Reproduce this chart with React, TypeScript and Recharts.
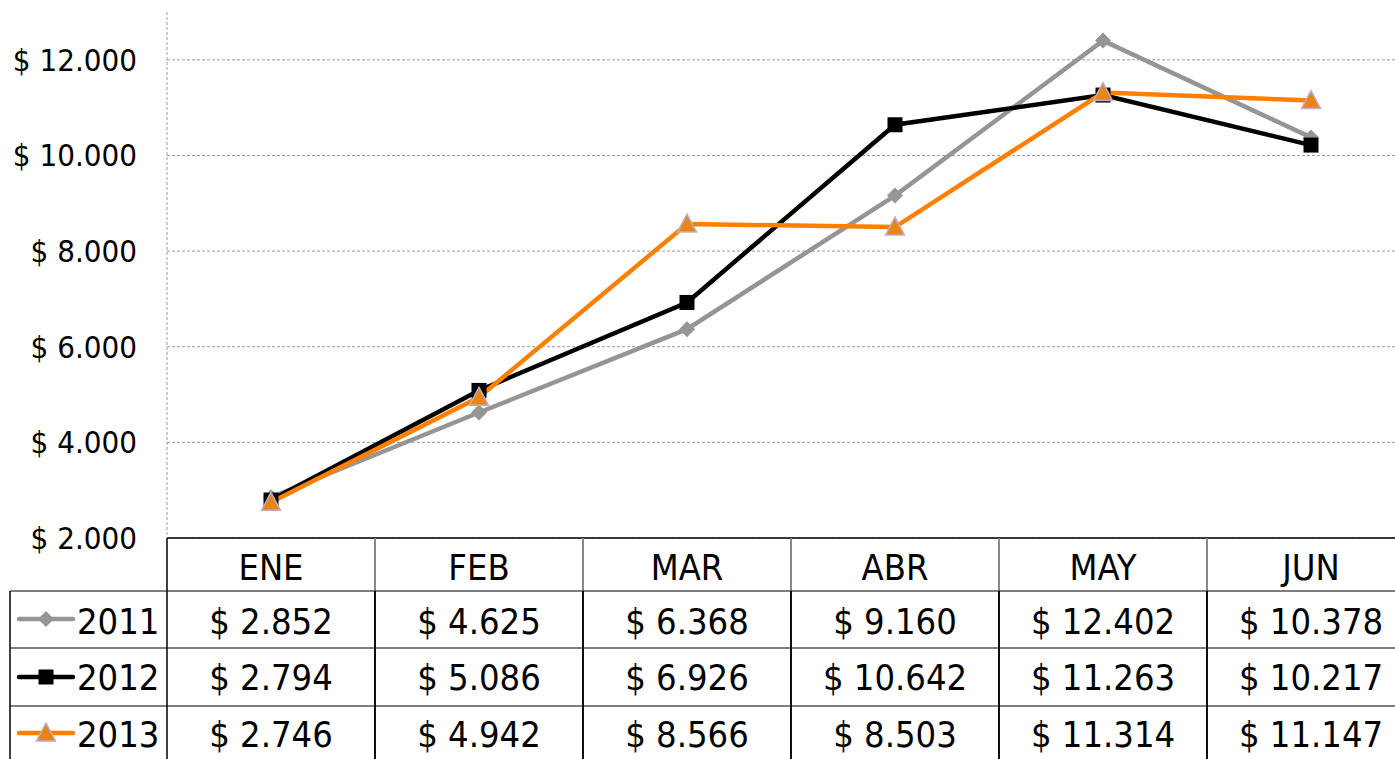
import React from 'react';
import { LineChart, Line, XAxis, YAxis, CartesianGrid } from 'recharts';

const months = ['ENE', 'FEB', 'MAR', 'ABR', 'MAY', 'JUN'];
const years = ['2011', '2012', '2013'];
const values2011 = [2852, 4625, 6368, 9160, 12402, 10378];
const values2012 = [2794, 5086, 6926, 10642, 11263, 10217];
const values2013 = [2746, 4942, 8566, 8503, 11314, 11147];
const yTicks = [2000, 4000, 6000, 8000, 10000, 12000];

const data = months.map((m, i) => ({
  month: m,
  y2011: values2011[i],
  y2012: values2012[i],
  y2013: values2013[i],
}));

const seriesValues = [values2011, values2012, values2013];

const FONT = "'DejaVu Sans Condensed', 'DejaVu Sans', sans-serif";
const GRAY = '#959595';
const ORANGE = '#ff8000';
const TRI_FILL = '#ec8410';
const TRI_STROKE = '#b9aecb';

const CHART_W = 1420;
const CHART_H = 790;
const PLOT_LEFT = 167;
const PLOT_RIGHT_MARGIN = 5;
const BAND = (CHART_W - PLOT_RIGHT_MARGIN - PLOT_LEFT) / months.length;

const fmt = (n: number) => '$ ' + String(n).replace(/\B(?=(\d{3})+(?!\d))/g, '.');

const Diamond = ({ cx, cy, s = 8 }: any) => (
  <polygon points={`${cx},${cy - s} ${cx + s},${cy} ${cx},${cy + s} ${cx - s},${cy}`} fill={GRAY} />
);
const Square = ({ cx, cy, s = 7.5 }: any) => (
  <rect x={cx - s} y={cy - s} width={s * 2} height={s * 2} fill="#000" />
);
const Triangle = ({ cx, cy }: any) => (
  <polygon
    points={`${cx},${cy - 10} ${cx + 9.5},${cy + 8} ${cx - 9.5},${cy + 8}`}
    fill={TRI_FILL}
    stroke={TRI_STROKE}
    strokeWidth={1.5}
  />
);

const markers = [Diamond, Square, Triangle];
const lineColors = [GRAY, '#000', ORANGE];

const TableTick = (props: any) => {
  const { x, y, payload } = props;
  const i = payload.index;
  const half = BAND / 2;
  const l = x - half;
  const r = x + half;
  const rowLines = [y + 53, y + 110, y + 168];
  const baselines = [y + 96, y + 152, y + 209];
  const bottom = y + 260;
  const els: any[] = [];
  els.push(<line key="hl" x1={l} y1={y} x2={l} y2={y + 53} stroke={i === 0 ? '#000' : '#808080'} strokeWidth={1.5} />);
  els.push(<line key="hr" x1={r} y1={y} x2={r} y2={y + 53} stroke="#808080" strokeWidth={1.5} />);
  els.push(<line key="dl" x1={l} y1={y + 53} x2={l} y2={bottom} stroke="#000" strokeWidth={1.5} />);
  els.push(<line key="dr" x1={r} y1={y + 53} x2={r} y2={bottom} stroke="#000" strokeWidth={1.5} />);
  rowLines.forEach((ry, k) => {
    els.push(<line key={'rl' + k} x1={l} y1={ry} x2={r} y2={ry} stroke="#000" strokeWidth={1.2} />);
  });
  els.push(
    <text key="h" x={x} y={y + 42} textAnchor="middle" fontSize={36} fill="#000" style={{ fontFamily: FONT }}>
      {payload.value}
    </text>
  );
  seriesValues.forEach((vals, k) => {
    els.push(
      <text key={'v' + k} x={x} y={baselines[k]} textAnchor="middle" fontSize={36} fill="#000" style={{ fontFamily: FONT }}>
        {fmt(vals[i])}
      </text>
    );
  });
  if (i === 0) {
    const lb = l - 157;
    els.push(<line key="lb" x1={lb} y1={y + 53} x2={lb} y2={bottom} stroke="#000" strokeWidth={1.5} />);
    rowLines.forEach((ry, k) => {
      els.push(<line key={'lrl' + k} x1={lb} y1={ry} x2={l} y2={ry} stroke="#000" strokeWidth={1.2} />);
    });
    const symY = [y + 81, y + 139, y + 195];
    years.forEach((yr, k) => {
      const M = markers[k];
      els.push(
        <g key={'leg' + k}>
          <line x1={lb + 9} y1={symY[k]} x2={lb + 63} y2={symY[k]} stroke={lineColors[k]} strokeWidth={4.5} strokeLinecap="round" />
          <M cx={lb + 36} cy={symY[k]} />
          <text x={lb + 67} y={baselines[k]} textAnchor="start" fontSize={36} fill="#000" style={{ fontFamily: FONT }}>
            {yr}
          </text>
        </g>
      );
    });
  }
  return <g>{els}</g>;
};

const makeDot = (k: number) => (p: any) => {
  const M = markers[k];
  return <M key={'d' + k + '-' + p.index} cx={p.cx} cy={p.cy} />;
};

export default function App() {
  return (
    <div style={{ position: 'fixed', left: 0, top: 0, width: 1395, height: 759, overflow: 'hidden', background: '#fff' }}>
      <LineChart
        width={CHART_W}
        height={CHART_H}
        data={data}
        margin={{ top: 12, right: PLOT_RIGHT_MARGIN, left: 0, bottom: 0 }}
      >
        <CartesianGrid vertical={false} horizontalValues={yTicks} stroke="#9a9a9a" strokeDasharray="3 2" />
        <XAxis
          dataKey="month"
          height={CHART_H - 538}
          interval={0}
          padding={{ left: BAND / 2, right: BAND / 2 }}
          axisLine={{ stroke: '#000', strokeWidth: 1.5 }}
          tickLine={false}
          tickSize={0}
          tickMargin={0}
          tick={<TableTick />}
        />
        <YAxis
          width={PLOT_LEFT}
          domain={[2000, 13000]}
          ticks={yTicks}
          allowDataOverflow
          tickFormatter={fmt}
          axisLine={{ stroke: '#9a9a9a', strokeDasharray: '3 2' }}
          tickLine={false}
          tickSize={0}
          tickMargin={30}
          tick={{ fontSize: 31, fill: '#000', fontFamily: FONT }}
        />
        <Line dataKey="y2011" stroke={GRAY} strokeWidth={4.5} dot={makeDot(0)} activeDot={false} isAnimationActive={false} />
        <Line dataKey="y2012" stroke="#000" strokeWidth={4.5} dot={makeDot(1)} activeDot={false} isAnimationActive={false} />
        <Line dataKey="y2013" stroke={ORANGE} strokeWidth={4.5} dot={makeDot(2)} activeDot={false} isAnimationActive={false} />
      </LineChart>
    </div>
  );
}
